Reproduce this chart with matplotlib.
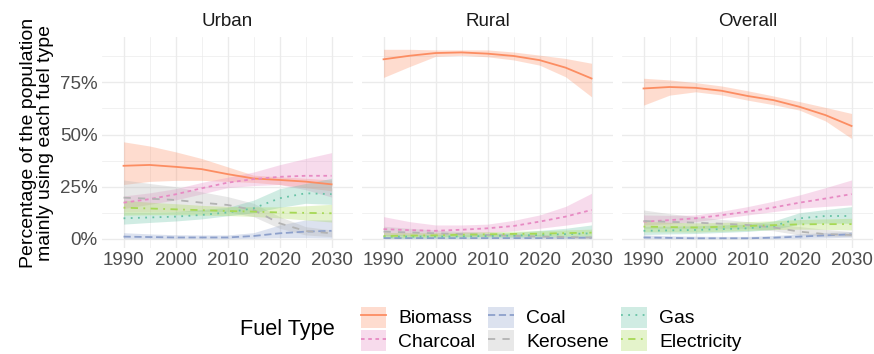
import numpy as np
from matplotlib import pyplot as plt
from matplotlib.patches import Patch
from matplotlib.lines import Line2D
from matplotlib.ticker import FixedLocator

plt.rcParams['font.family'] = ['Liberation Sans', 'DejaVu Sans']

# anos (passo de 5 anos)
years = [1990, 1995, 2000, 2005, 2010, 2015, 2020, 2025, 2030]

fuels = ['Biomass', 'Charcoal', 'Coal', 'Kerosene', 'Gas', 'Electricity']
panels = ['Urban', 'Rural', 'Overall']

# ---- Urban ----
urban_biomass = [35.0, 35.4, 34.5, 33.4, 31.0, 28.9, 28.2, 27.4, 26.1]
urban_biomass_lo = [26.0, 27.5, 28.0, 28.0, 27.5, 27.0, 26.0, 24.5, 23.0]
urban_biomass_hi = [46.5, 44.5, 41.7, 38.5, 34.5, 30.5, 29.7, 29.0, 28.2]
urban_charcoal = [17.3, 19.0, 21.3, 24.2, 26.9, 28.6, 29.7, 30.2, 30.2]
urban_charcoal_lo = [14.5, 16.5, 18.6, 21.5, 24.5, 25.5, 26.0, 23.5, 20.0]
urban_charcoal_hi = [20.5, 22.0, 24.0, 27.0, 29.5, 32.0, 35.5, 38.5, 41.3]
urban_coal = [1.0, 0.8, 0.6, 0.6, 0.6, 1.3, 2.6, 3.4, 3.8]
urban_coal_lo = [0.0, 0.0, 0.0, 0.0, 0.0, 0.2, 0.5, 0.5, 0.3]
urban_coal_hi = [2.9, 2.3, 1.9, 1.8, 1.8, 2.9, 6.6, 9.0, 9.0]
urban_kerosene = [19.7, 19.2, 18.6, 17.3, 16.2, 13.8, 7.4, 3.7, 2.6]
urban_kerosene_lo = [13.0, 13.0, 13.0, 13.0, 13.0, 10.6, 5.0, 1.8, 1.0]
urban_kerosene_hi = [28.2, 26.5, 25.0, 22.5, 20.2, 17.0, 10.6, 5.8, 4.2]
urban_gas = [9.8, 10.2, 10.6, 11.4, 12.6, 14.6, 19.4, 21.8, 21.4]
urban_gas_lo = [7.0, 7.8, 8.5, 9.5, 11.0, 12.5, 15.0, 17.0, 16.5]
urban_gas_hi = [12.8, 12.8, 13.0, 14.0, 15.0, 18.5, 24.0, 26.5, 29.0]
urban_elec = [14.9, 14.5, 14.1, 13.7, 13.3, 13.0, 12.6, 12.4, 12.2]
urban_elec_lo = [11.3, 11.5, 11.5, 11.3, 11.1, 10.7, 10.0, 9.0, 8.0]
urban_elec_hi = [18.5, 17.5, 16.8, 16.0, 15.5, 15.3, 15.3, 15.8, 16.5]

# ---- Rural ----
rural_biomass = [86.1, 87.8, 89.1, 89.4, 88.8, 87.7, 85.7, 82.1, 76.9]
rural_biomass_lo = [77.4, 82.6, 87.5, 88.0, 87.3, 85.8, 83.3, 77.7, 68.1]
rural_biomass_hi = [90.9, 90.9, 90.6, 90.6, 90.6, 89.6, 88.1, 86.5, 84.2]
rural_charcoal = [4.6, 4.1, 3.8, 4.3, 5.0, 6.1, 8.2, 10.6, 13.8]
rural_charcoal_lo = [1.8, 1.8, 1.8, 2.3, 2.9, 3.8, 5.0, 6.5, 8.2]
rural_charcoal_hi = [10.6, 8.2, 6.6, 6.6, 7.0, 8.8, 11.4, 15.5, 21.8]
rural_coal = [0.3, 0.3, 0.3, 0.3, 0.3, 0.3, 0.3, 0.4, 0.5]
rural_coal_lo = [0.0, 0.0, 0.0, 0.0, 0.0, 0.0, 0.0, 0.0, 0.0]
rural_coal_hi = [1.0, 0.8, 0.7, 0.6, 0.6, 0.6, 0.7, 0.9, 1.2]
rural_kerosene = [3.4, 3.0, 2.6, 2.2, 1.8, 1.4, 1.0, 0.8, 0.6]
rural_kerosene_lo = [1.5, 1.3, 1.2, 1.0, 0.8, 0.5, 0.3, 0.2, 0.1]
rural_kerosene_hi = [6.0, 5.0, 4.2, 3.5, 3.0, 2.5, 2.0, 1.6, 1.4]
rural_gas = [1.0, 1.0, 1.0, 1.1, 1.3, 1.5, 1.8, 2.2, 2.6]
rural_gas_lo = [0.3, 0.3, 0.3, 0.4, 0.5, 0.6, 0.7, 0.8, 0.8]
rural_gas_hi = [2.0, 2.0, 2.0, 2.2, 2.5, 3.0, 4.0, 5.0, 6.6]
rural_elec = [1.3, 1.5, 1.6, 1.9, 2.1, 2.3, 2.4, 2.7, 2.9]
rural_elec_lo = [0.3, 0.5, 0.7, 0.9, 1.1, 1.2, 1.3, 1.4, 1.4]
rural_elec_hi = [3.0, 2.9, 2.9, 3.1, 3.4, 3.6, 3.8, 4.2, 4.6]

# ---- Overall ----
overall_biomass = [72.1, 72.8, 72.4, 71.0, 68.5, 66.5, 63.3, 59.3, 54.1]
overall_biomass_lo = [64.1, 68.9, 70.5, 69.0, 66.5, 64.3, 61.7, 56.5, 48.1]
overall_biomass_hi = [77.0, 76.2, 74.9, 73.3, 71.0, 68.5, 65.8, 63.0, 60.1]
overall_charcoal = [8.2, 8.9, 9.8, 11.3, 13.0, 15.0, 17.3, 19.3, 21.4]
overall_charcoal_lo = [6.6, 7.2, 8.2, 9.8, 11.4, 13.0, 14.6, 15.5, 16.2]
overall_charcoal_hi = [11.4, 11.2, 11.4, 13.2, 15.4, 18.0, 21.0, 24.5, 28.2]
overall_coal = [0.6, 0.4, 0.2, 0.2, 0.2, 0.5, 1.0, 1.6, 2.1]
overall_coal_lo = [0.0, 0.0, 0.0, 0.0, 0.0, 0.0, 0.1, 0.4, 0.8]
overall_coal_hi = [1.8, 1.4, 1.2, 1.1, 1.1, 1.5, 2.3, 3.0, 3.4]
overall_kerosene = [8.5, 8.1, 7.7, 7.2, 6.6, 5.4, 3.4, 2.2, 1.8]
overall_kerosene_lo = [5.0, 5.0, 5.0, 5.0, 5.0, 3.8, 1.8, 1.2, 1.0]
overall_kerosene_hi = [13.8, 12.0, 10.6, 9.3, 8.2, 7.0, 5.8, 4.5, 3.4]
overall_gas = [3.8, 4.0, 4.2, 4.6, 5.0, 6.1, 9.8, 10.9, 10.9]
overall_gas_lo = [2.0, 2.3, 2.5, 3.0, 3.5, 4.5, 7.0, 7.5, 7.4]
overall_gas_hi = [6.0, 6.0, 6.2, 6.6, 7.0, 8.5, 12.5, 14.0, 15.4]
overall_elec = [5.8, 5.6, 5.4, 5.7, 6.1, 6.5, 6.9, 7.0, 7.0]
overall_elec_lo = [3.3, 3.3, 3.2, 3.6, 4.0, 4.4, 4.6, 4.5, 4.2]
overall_elec_hi = [8.3, 7.9, 7.6, 7.8, 8.2, 8.6, 9.2, 9.5, 9.8]

series = {
    'Urban': [
        (urban_biomass, urban_biomass_lo, urban_biomass_hi),
        (urban_charcoal, urban_charcoal_lo, urban_charcoal_hi),
        (urban_coal, urban_coal_lo, urban_coal_hi),
        (urban_kerosene, urban_kerosene_lo, urban_kerosene_hi),
        (urban_gas, urban_gas_lo, urban_gas_hi),
        (urban_elec, urban_elec_lo, urban_elec_hi),
    ],
    'Rural': [
        (rural_biomass, rural_biomass_lo, rural_biomass_hi),
        (rural_charcoal, rural_charcoal_lo, rural_charcoal_hi),
        (rural_coal, rural_coal_lo, rural_coal_hi),
        (rural_kerosene, rural_kerosene_lo, rural_kerosene_hi),
        (rural_gas, rural_gas_lo, rural_gas_hi),
        (rural_elec, rural_elec_lo, rural_elec_hi),
    ],
    'Overall': [
        (overall_biomass, overall_biomass_lo, overall_biomass_hi),
        (overall_charcoal, overall_charcoal_lo, overall_charcoal_hi),
        (overall_coal, overall_coal_lo, overall_coal_hi),
        (overall_kerosene, overall_kerosene_lo, overall_kerosene_hi),
        (overall_gas, overall_gas_lo, overall_gas_hi),
        (overall_elec, overall_elec_lo, overall_elec_hi),
    ],
}

# paleta Set2 e tipos de linha do ggplot
colors = ['#FC8D62', '#E78AC3', '#8DA0CB', '#B3B3B3', '#66C2A5', '#A6D854']
dashes = ['-', (0, (2, 2)), (0, (4, 2)), (0, (4, 4)), (0, (1, 3)), (0, (1, 3, 4, 3))]
lw = 1.3
alpha = 0.3

W, H = 874, 354
fig = plt.figure(figsize=(W / 100, H / 100), dpi=100)

lefts = [101.7, 361.7, 621.7]
pw = 251.7
top_px, bot_px = 37.0, 248.3

for i, name in enumerate(panels):
    ax = fig.add_axes([lefts[i] / W, 1 - bot_px / H, pw / W, (bot_px - top_px) / H])
    x = np.array(years)
    for (mid, lo, hi), c in zip(series[name], colors):
        ax.fill_between(x, lo, hi, color=c, alpha=alpha, lw=0)
    for (mid, lo, hi), c, ls in zip(series[name], colors, dashes):
        ax.plot(x, mid, color=c, lw=lw, linestyle=ls)

    ax.set_xlim(1985.8, 2034.2)
    ax.set_ylim(-4.6, 96.8)
    ax.set_xticks([1990, 2000, 2010, 2020, 2030])
    ax.set_yticks([0, 25, 50, 75])
    ax.xaxis.set_minor_locator(FixedLocator([1995, 2005, 2015, 2025]))
    ax.yaxis.set_minor_locator(FixedLocator([12.5, 37.5, 62.5, 87.5]))
    ax.grid(True, which='major', color='#EBEBEB', lw=1.0)
    ax.grid(True, which='minor', color='#EBEBEB', lw=0.5)
    ax.set_axisbelow(True)
    for s in ax.spines.values():
        s.set_visible(False)
    ax.tick_params(which='both', length=0, labelsize=13.5, labelcolor='#4D4D4D', pad=3)
    if i == 0:
        ax.set_yticklabels(['0%', '25%', '50%', '75%'])
        ax.set_ylabel('Percentage of the population\nmainly using each fuel type',
                      fontsize=14, labelpad=4, linespacing=1.0)
    else:
        ax.set_yticklabels([])
    ax.text(0.5, 1.0 + (top_px - 21) / (bot_px - top_px), name, transform=ax.transAxes,
            ha='center', va='center', fontsize=13.5, color='#1A1A1A')

handles = []
for c, ls in zip(colors, dashes):
    handles.append((Patch(facecolor=c, alpha=alpha, lw=0),
                    Line2D([], [], color=c, lw=lw, linestyle=ls)))

fig.legend(handles, fuels, ncol=3, loc='center left',
           bbox_to_anchor=(351 / W, 1 - 329 / H), frameon=False,
           fontsize=13.9, handlelength=1.32, handleheight=1.3,
           handletextpad=0.64, columnspacing=0.65, labelspacing=0.15, borderpad=0)
fig.text(240 / W, 1 - 329 / H, 'Fuel Type', fontsize=15.7, ha='left', va='center')

fig.savefig('out.png', dpi=100)
